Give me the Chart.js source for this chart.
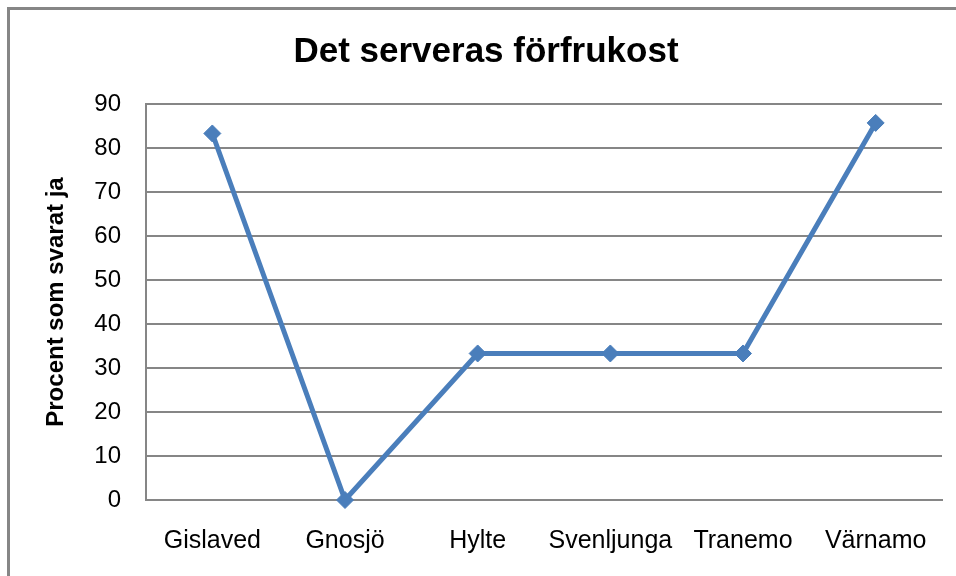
<!DOCTYPE html>
<html>
<head>
<meta charset="utf-8">
<script src="https://cdn.jsdelivr.net/npm/chart.js@4/dist/chart.umd.min.js"></script>
<style>
html,body{margin:0;padding:0;background:#fff;}
#wrap{position:relative;width:956px;height:576px;}
</style>
</head>
<body>
<div id="wrap"><canvas id="c" width="956" height="576"></canvas></div>
<script>
const categories = ["Gislaved", "Gnosjö", "Hylte", "Svenljunga", "Tranemo", "Värnamo"];
const values = [83.3, 0, 33.3, 33.3, 33.3, 85.7];
const yTicks = [0, 10, 20, 30, 40, 50, 60, 70, 80, 90];
const chartTitle = "Det serveras förfrukost";
const yTitle = "Procent som svarat ja";

const FONT = "'Liberation Sans', Arial, sans-serif";

const framePlugin = {
  id: 'frame',
  beforeDraw(chart) {
    const ctx = chart.ctx;
    ctx.save();
    ctx.fillStyle = '#fff';
    ctx.fillRect(0, 0, chart.width, chart.height);
    ctx.strokeStyle = '#868686';
    ctx.lineWidth = 3;
    ctx.strokeRect(8.5, 8.5, 1200, 1200);
    ctx.restore();
  }
};

new Chart(document.getElementById('c'), {
  type: 'line',
  data: {
    labels: categories,
    datasets: [{
      data: values,
      borderColor: '#4a7ebb',
      backgroundColor: '#4a7ebb',
      borderWidth: 5,
      pointStyle: 'rectRot',
      pointRadius: 8.5,
      pointHoverRadius: 8.5,
      pointBorderWidth: 1,
      tension: 0,
      clip: false
    }]
  },
  options: {
    responsive: false,
    animation: false,
    devicePixelRatio: 1,
    layout: { padding: { left: 30, right: 14, top: 0, bottom: 0 } },
    plugins: {
      legend: { display: false },
      tooltip: { enabled: false },
      title: {
        display: true,
        text: chartTitle,
        color: '#000',
        font: { family: FONT, size: 35, weight: 'bold', lineHeight: 1.2 },
        padding: { top: 31, bottom: 31 }
      }
    },
    scales: {
      x: {
        offset: true,
        grid: { display: false, drawTicks: false },
        border: { display: true, color: '#868686', width: 2 },
        ticks: { color: '#000', font: { family: FONT, size: 25 }, padding: 26, maxRotation: 0, autoSkip: false },
        afterFit(scale) { scale.height = 76; }
      },
      y: {
        min: 0,
        max: 90,
        afterBuildTicks(scale) { scale.ticks = yTicks.map(v => ({ value: v })); },
        grid: { color: '#868686', lineWidth: 2, drawTicks: false },
        border: { display: true, color: '#868686', width: 2 },
        ticks: { color: '#000', font: { family: FONT, size: 24 }, padding: 25 },
        title: {
          display: true,
          text: yTitle,
          color: '#000',
          font: { family: FONT, size: 24, weight: 'bold', lineHeight: 1.2 },
          padding: { top: 12, bottom: 0 }
        },
        afterFit(scale) { scale.width = 116; }
      }
    }
  },
  plugins: [framePlugin]
});
</script>
</body>
</html>
